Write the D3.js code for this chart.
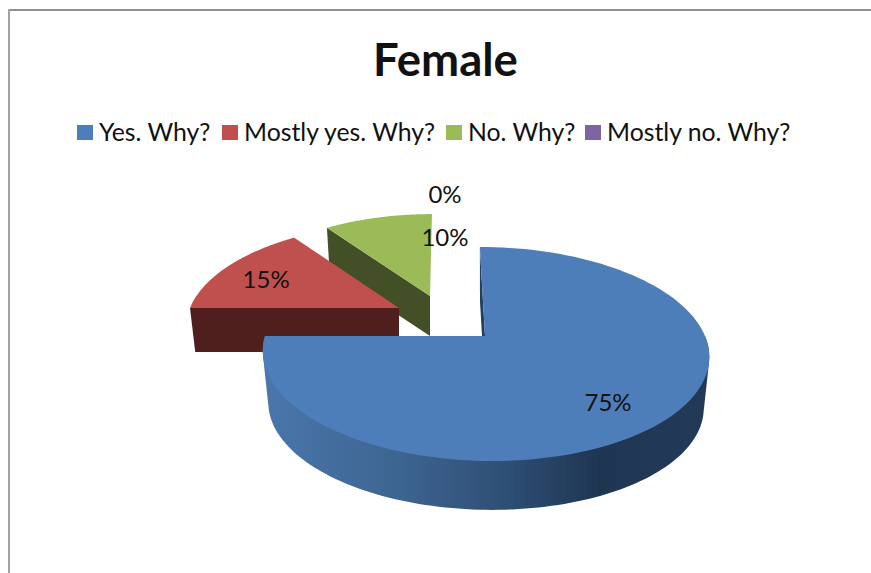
<!DOCTYPE html>
<html>
<head>
<meta charset="utf-8">
<script src="https://cdn.jsdelivr.net/npm/d3@7/dist/d3.min.js"></script>
<style>
html,body{margin:0;padding:0;background:#fff;}
svg{display:block;}
text{font-family:Lato,"Open Sans",sans-serif;fill:#111;}
</style>
</head>
<body>
<svg id="chart" width="871" height="573"></svg>
<script>
const chartTitle = "Female";
const categories = ["Yes. Why?", "Mostly yes. Why?", "No. Why?", "Mostly no. Why?"];
const seriesValues = [75, 15, 10, 0];
const topColors = ["#4e7eb9", "#c0504d", "#9bbb59", "#8064a2"];
const wallColors = ["#21405f", "#4f1f1e", "#434f26", "#3f2f52"];

// Layout of the exploded slices, apart from the data
const sliceCx = [485, 399, 430, 430];
const sliceCy = [336, 308, 296, 296];
const sliceScale = [1, 0.95, 0.92, 0.92];
const sliceDepth = [52, 44, 40, 40];
const sliceSkew = [6, -5, -2.5, -2.5];
const labelRadius = [0.7, 0.77, 0, 0];
const labelDx = [1, 1, 15, 15];
const labelDy = [11, 5, -58, -101];
const legendX = [77, 222, 446, 585];

const R = 220, K = 104, P = 0.168, BOTTOM_SHRINK = 0.025;

const svg = d3.select("#chart");
const defs = svg.append("defs");
const grad = defs.append("linearGradient").attr("id", "blueWall")
  .attr("gradientUnits", "userSpaceOnUse")
  .attr("x1", 264).attr("x2", 708).attr("y1", 0).attr("y2", 0);
[[0, "#4a76ab"], [0.3, "#3d6591"], [0.55, "#2e4e74"], [0.75, "#1f3653"], [1, "#223a58"]]
  .forEach(([o, c]) => grad.append("stop").attr("offset", o).attr("stop-color", c));

// frame
svg.append("rect").attr("x", 8).attr("y", 9).attr("width", 863).attr("height", 2).attr("fill", "#8f8f8f");
svg.append("rect").attr("x", 8).attr("y", 9).attr("width", 2).attr("height", 564).attr("fill", "#a3a3a3");

// title
svg.append("text").attr("x", 445.5).attr("y", 76).attr("text-anchor", "middle")
  .attr("font-size", 45.5).attr("font-weight", 700).text(chartTitle);

// legend
const legend = svg.append("g").selectAll("g").data(categories).join("g");
legend.append("rect").attr("x", (d, i) => legendX[i]).attr("y", 125).attr("width", 16).attr("height", 15)
  .attr("fill", (d, i) => topColors[i]);
legend.append("text").attr("x", (d, i) => legendX[i] + 22).attr("y", 141)
  .attr("font-size", 24.8).text(d => d);

// pie geometry from d3.pie
const pie = d3.pie().sort(null).value(d => d).startAngle(0).endAngle(2 * Math.PI);
const arcs = pie(seriesValues).map((d, i) => ({...d, i}));

function project(i, a, rho, z) {
  const u = Math.sin(a) * rho, v = -Math.cos(a) * rho;
  const f = sliceScale[i] * (1 - BOTTOM_SHRINK * z), w = 1 - P * v;
  return [sliceCx[i] + f * (R * u + sliceSkew[i] * v) / w,
          sliceCy[i] + sliceDepth[i] * z + f * K * v / w];
}
const line = d3.line();
const samples = (a0, a1) => d3.range(0, 121).map(k => a0 + (a1 - a0) * k / 120);

const drawn = [2, 1, 0].map(i => arcs[i]).filter(d => d.value > 0);
const g = svg.append("g");
drawn.forEach(d => {
  const i = d.i;
  // cut wall on the start edge
  g.append("path").attr("fill", wallColors[i]).attr("d", line([
    project(i, d.startAngle, 1, 0), project(i, d.startAngle, 0, 0),
    project(i, d.startAngle, 0, 1), project(i, d.startAngle, 1, 1)
  ]) + "Z");
  // outer rim wall, only where it faces the viewer: hull of top and bottom rims
  const a0 = Math.max(d.startAngle, Math.PI * 0.5), a1 = Math.min(d.endAngle, Math.PI * 1.5);
  if (a1 > a0) {
    const top = samples(a0, a1).map(a => project(i, a, 1, 0));
    const bot = samples(a0, a1).map(a => project(i, a, 1, 1));
    g.append("path").attr("fill", "url(#blueWall)")
      .attr("d", line(d3.polygonHull(top.concat(bot))) + "Z");
  }
  // top face
  const rim = samples(d.startAngle, d.endAngle).map(a => project(i, a, 1, 0));
  g.append("path").attr("fill", topColors[i])
    .attr("d", line([project(i, d.startAngle, 0, 0)].concat(rim)) + "Z");
});

// value labels
const total = d3.sum(seriesValues);
svg.append("g").selectAll("text").data(arcs).join("text")
  .attr("text-anchor", "middle").attr("font-size", 24)
  .attr("x", d => project(d.i, (d.startAngle + d.endAngle) / 2, labelRadius[d.i], 0)[0] + labelDx[d.i])
  .attr("y", d => project(d.i, (d.startAngle + d.endAngle) / 2, labelRadius[d.i], 0)[1] + labelDy[d.i] + 8)
  .text(d => Math.round(d.value / total * 100) + "%");
</script>
</body>
</html>
